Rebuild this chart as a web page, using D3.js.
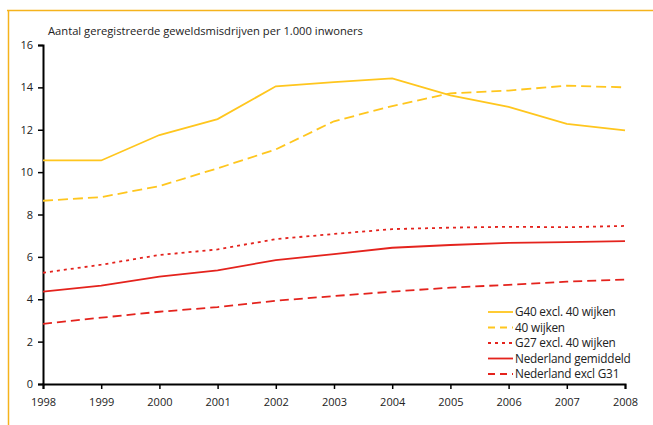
<!DOCTYPE html>
<html>
<head>
<meta charset="utf-8">
<script src="https://cdn.jsdelivr.net/npm/d3@7"></script>
<style>
  body { margin: 0; background: #fff; }
  svg text { font-family: "Open Sans", "Noto Sans", sans-serif; fill: #222; }
</style>
</head>
<body>
<div id="chart"></div>
<script>
// years on the x axis
var years = [1998, 1999, 2000, 2001, 2002, 2003, 2004, 2005, 2006, 2007, 2008];
var yTicks = [0, 2, 4, 6, 8, 10, 12, 14, 16];

// series values (per 1.000 inwoners)
var g40Excl = [10.55, 10.55, 11.75, 12.5, 14.05, 14.25, 14.42, 13.62, 13.08, 12.28, 11.97];
var wijken40 = [8.65, 8.82, 9.34, 10.18, 11.07, 12.4, 13.12, 13.72, 13.85, 14.08, 14.0];
var g27Excl = [5.25, 5.63, 6.09, 6.35, 6.84, 7.08, 7.31, 7.38, 7.42, 7.4, 7.46];
var nlGem = [4.36, 4.64, 5.07, 5.36, 5.85, 6.13, 6.43, 6.56, 6.66, 6.7, 6.74];
var nlExclG31 = [2.84, 3.13, 3.41, 3.63, 3.93, 4.15, 4.36, 4.55, 4.68, 4.83, 4.93];

var seriesNames = ["G40 excl. 40 wijken", "40 wijken", "G27 excl. 40 wijken", "Nederland gemiddeld", "Nederland excl G31"];

var yellow = "#ffc61e", red = "#e4231d", frame = "#f5b31c";

var series = [
  { name: seriesNames[0], values: g40Excl, color: yellow, dash: null, legendDash: null },
  { name: seriesNames[1], values: wijken40, color: yellow, dash: "10,5", legendDash: "7,5" },
  { name: seriesNames[2], values: g27Excl, color: red, dash: "3,4", legendDash: "3,4" },
  { name: seriesNames[3], values: nlGem, color: red, dash: null, legendDash: null },
  { name: seriesNames[4], values: nlExclG31, color: red, dash: "9,5", legendDash: "7,5" }
];

var width = 653, height = 425;
var margin = { left: 43, right: 28, top: 45, bottom: 41 };

var svg = d3.select("#chart").append("svg")
  .attr("width", width)
  .attr("height", height);

// orange frame (top + left)
svg.append("path")
  .attr("d", "M7,10.5H653M8.5,10V425")
  .attr("fill", "none")
  .attr("stroke", frame)
  .attr("stroke-width", 1.5);

var x = d3.scaleLinear()
  .domain([1998, 2008])
  .range([margin.left, width - margin.right]);

var y = d3.scaleLinear()
  .domain([0, 16])
  .range([height - margin.bottom, margin.top]);

// title
svg.append("text")
  .attr("x", 48)
  .attr("y", 35)
  .style("font-size", "11.2px")
  .text("Aantal geregistreerde geweldsmisdrijven per 1.000 inwoners");

// y axis
var yAxis = svg.append("g")
  .attr("transform", "translate(" + margin.left + ",0)")
  .call(d3.axisLeft(y).tickValues(yTicks).tickSize(5).tickPadding(5));

// x axis
var xAxis = svg.append("g")
  .attr("transform", "translate(0," + y(0) + ")")
  .call(d3.axisBottom(x).tickValues(years).tickFormat(d3.format("d")).tickSize(5).tickPadding(7));

[yAxis, xAxis].forEach(function (ax) {
  ax.select(".domain").attr("stroke", "#000").attr("stroke-width", 2);
  ax.selectAll(".tick line").attr("stroke", "#000").attr("stroke-width", 1.5);
  ax.selectAll(".tick text").style("font-size", "11px").attr("fill", "#222");
});
xAxis.selectAll(".tick text").attr("dy", "0.9em");

// lines
var line = d3.line()
  .x(function (d, i) { return x(years[i]); })
  .y(function (d) { return y(d); });

svg.selectAll(".series")
  .data(series)
  .enter()
  .append("path")
  .attr("class", "series")
  .attr("d", function (d) { return line(d.values); })
  .attr("fill", "none")
  .attr("stroke", function (d) { return d.color; })
  .attr("stroke-width", 1.8)
  .attr("stroke-dasharray", function (d) { return d.dash; });

// legend
var legend = svg.append("g")
  .attr("transform", "translate(488,312)");

var item = legend.selectAll(".item")
  .data(series)
  .enter()
  .append("g")
  .attr("class", "item")
  .attr("transform", function (d, i) { return "translate(0," + (i * 15.5) + ")"; });

item.append("line")
  .attr("x1", 0)
  .attr("x2", 25)
  .attr("stroke", function (d) { return d.color; })
  .attr("stroke-width", 1.8)
  .attr("stroke-dasharray", function (d) { return d.legendDash; });

item.append("text")
  .attr("x", 27)
  .attr("dy", "0.35em")
  .style("font-size", "11.8px")
  .style("letter-spacing", "-0.2px")
  .text(function (d) { return d.name; });
</script>
</body>
</html>
